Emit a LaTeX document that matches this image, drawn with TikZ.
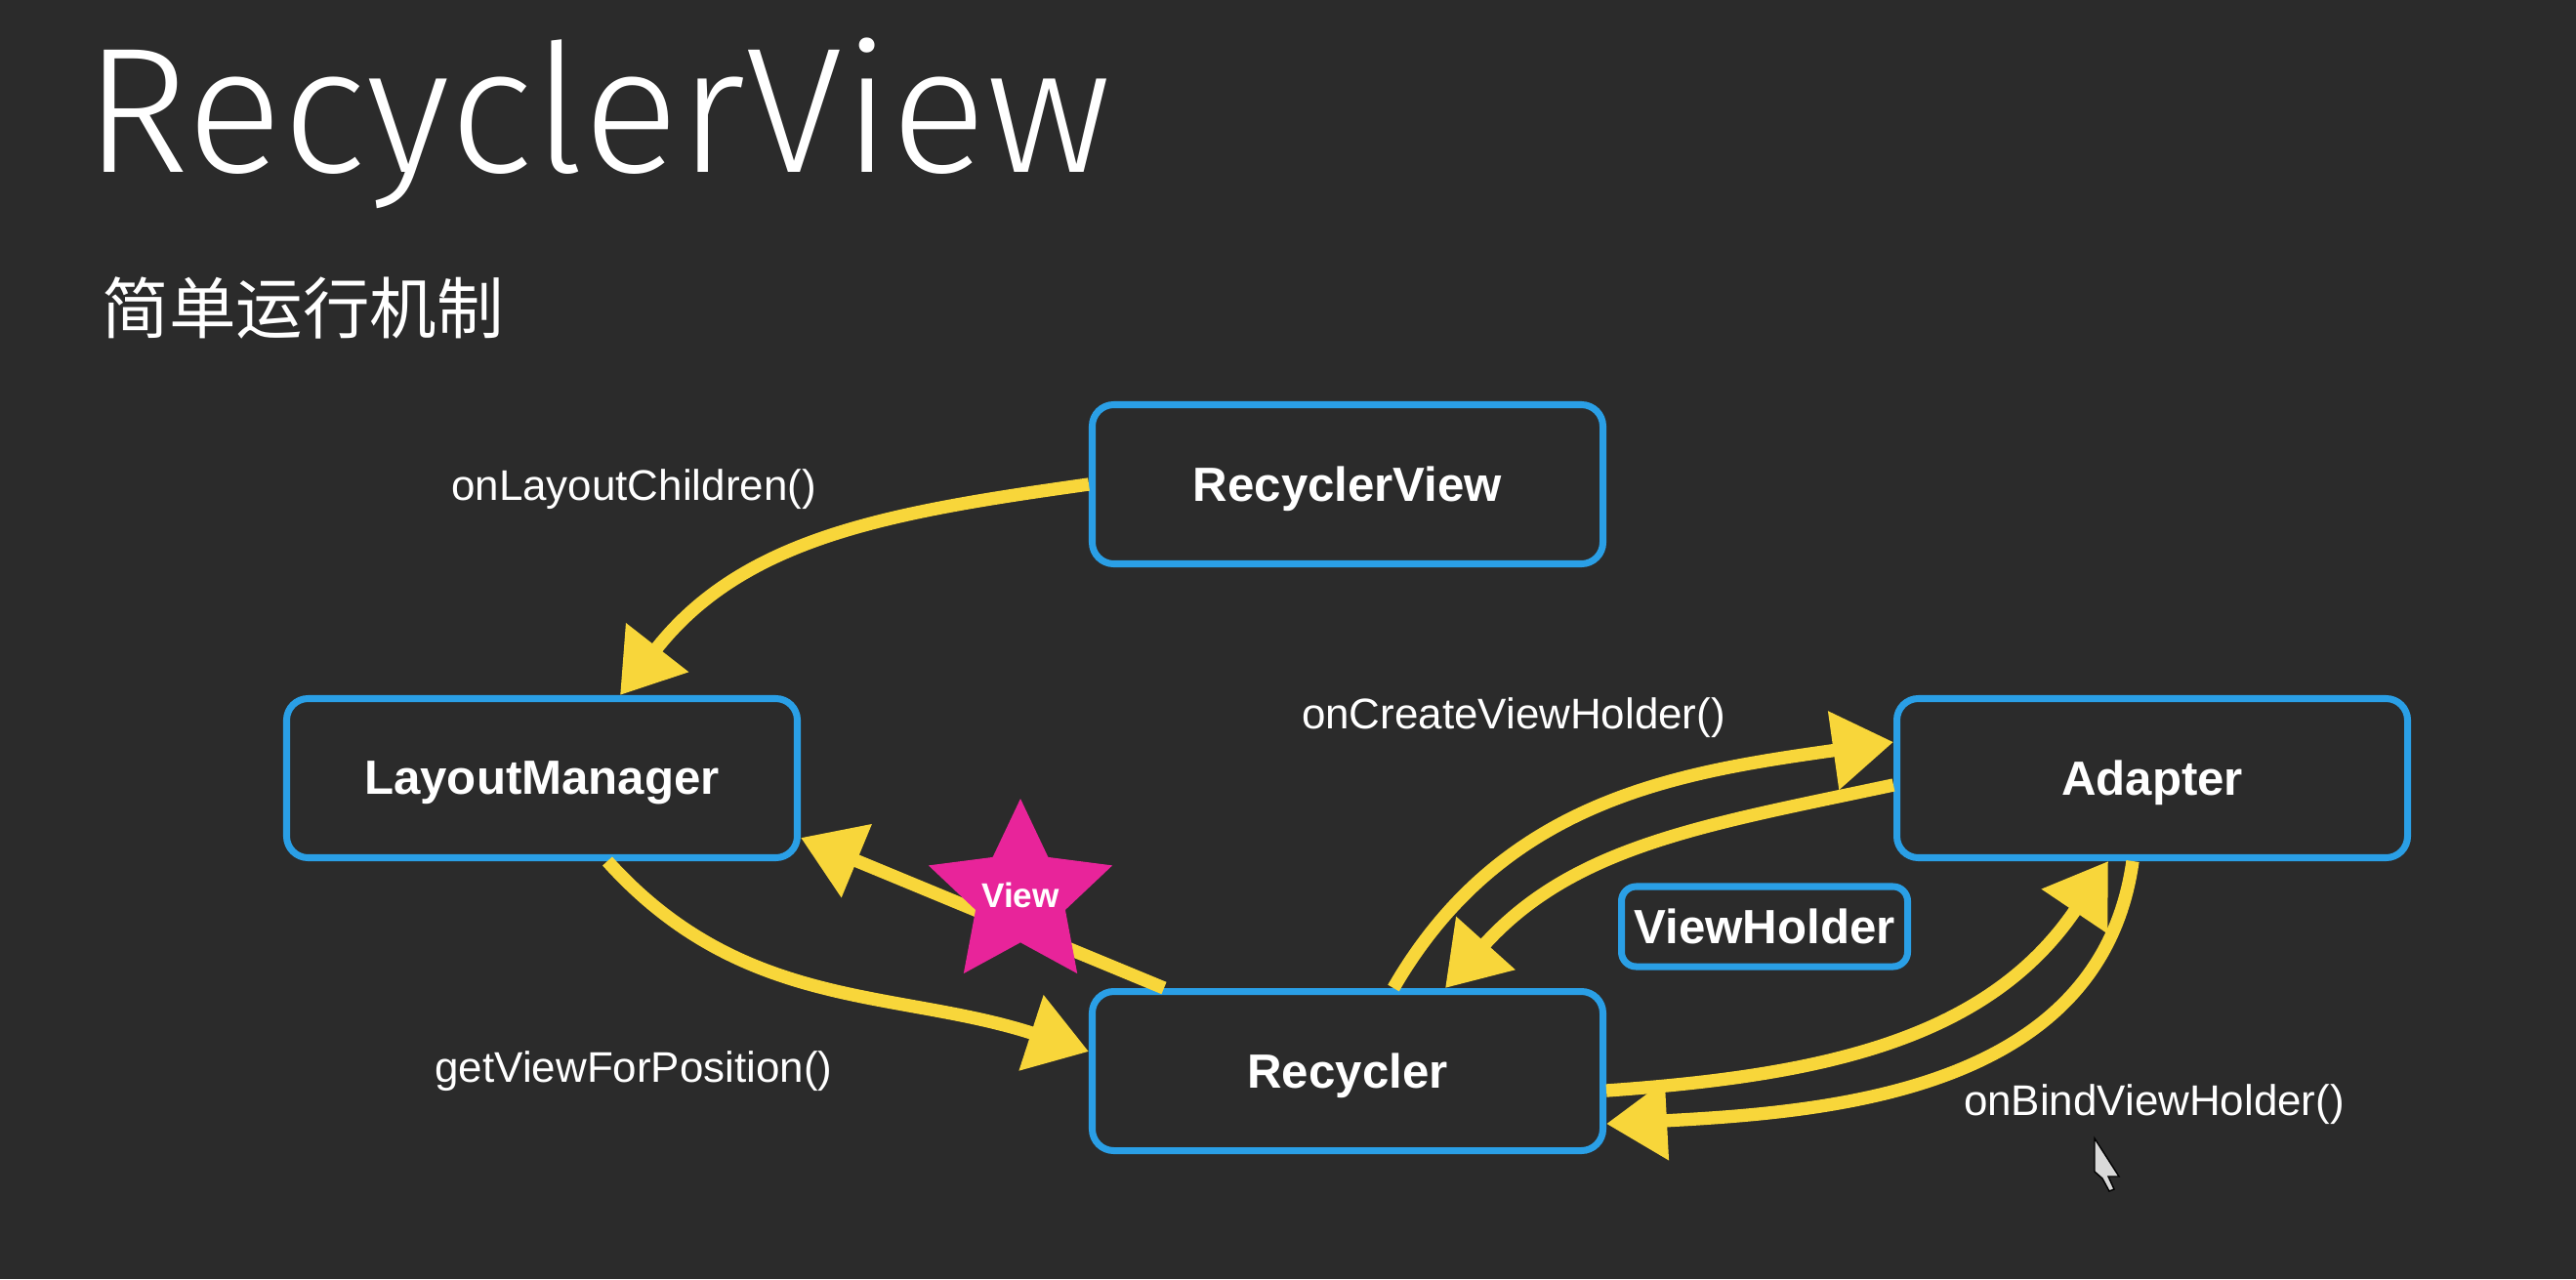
\documentclass[tikz,border=0pt]{standalone}
\usepackage{fontspec}
\setmainfont{Liberation Sans}
\newfontfamily\titlefont{Fira Sans Light}
\newfontfamily\cjkfont{Noto Sans CJK SC}
\usetikzlibrary{arrows.meta, positioning, shapes.geometric}
\definecolor{slidebg}{HTML}{2B2B2B}
\definecolor{boxblue}{HTML}{2A9FE6}
\definecolor{flowyellow}{HTML}{F8D63A}
\definecolor{starpink}{HTML}{E8249A}

\begin{document}
\begin{tikzpicture}[
    box/.style={draw=boxblue, line width=2pt, rounded corners=0.22cm, fill=slidebg,
                minimum width=5.23cm, minimum height=1.63cm, text=white, text depth=0pt,
                font=\fontsize{14}{16}\selectfont\bfseries},
    small box/.style={box, minimum width=2.93cm, minimum height=0.82cm,
                inner sep=1pt, rounded corners=0.15cm},
    call label/.style={text=white, font=\fontsize{12.5}{15}\selectfont},
    flow/.style={draw=flowyellow, line width=3.8pt,
                -{Triangle[length=0.62cm, width=0.78cm]}}]

    % Slide background
    \fill[slidebg] (0,0) rectangle (26.38,-13.10);
    \useasboundingbox (0,0) rectangle (26.38,-13.10);

    % Headings
    \node[anchor=base west, inner sep=0pt, text=white,
          font=\titlefont\fontsize{52}{60}\selectfont] (title) at (0.86,-1.76) {RecyclerView};
    \node[anchor=west, inner sep=0pt, text=white,
          font=\cjkfont\fontsize{19.5}{22}\selectfont] (subtitle) at (1.04,-3.15) {简单运行机制};

    % Components
    \node[box] (rv)  at (13.80,-4.96) {RecyclerView};
    \node[box] (lm)  at (5.55,-7.97)  {LayoutManager};
    \node[box] (ad)  at (22.04,-7.97) {Adapter};
    \node[box] (rec) at (13.80,-10.97) {Recycler};
    \node[small box] (vh) at (18.07,-9.49) {ViewHolder};

    % Method names
    \node[call label] (lblLayout) at (6.49,-5.01)  {onLayoutChildren()};
    \node[call label] (lblCreate) at (15.50,-7.35) {onCreateViewHolder()};
    \node[call label] (lblGet)    at (6.49,-10.97) {getViewForPosition()};
    \node[call label] (lblBind)   at (22.06,-11.31) {onBindViewHolder()};

    % Calls between the components
    \draw[flow] (rv.west) to[out=188, in=52] ([xshift=0.8cm]lm.north);
    \draw[flow] ([xshift=0.67cm]lm.south) to[out=-48, in=162] ([yshift=0.2cm]rec.west);
    \draw[flow] ([xshift=-1.88cm]rec.north) -- ([yshift=0.24cm]lm.south east);
    \draw[flow] ([xshift=0.47cm]rec.north) to[out=60, in=188] ([yshift=0.37cm]ad.west);
    \draw[flow] ([yshift=-0.07cm]ad.west) to[out=192, in=48] ([xshift=1.0cm]rec.north);
    \draw[flow] ([yshift=-0.2cm]rec.east) to[out=4, in=236] ([xshift=-0.45cm]ad.south);
    \draw[flow] ([xshift=-0.2cm]ad.south) to[out=-98, in=3] ([yshift=-0.54cm]rec.east);

    % The view handed back
    \node[star, star points=5, star point ratio=2.05, minimum size=1.98cm, inner sep=0pt,
          fill=starpink, label={[text=white, font=\fontsize{10}{12}\selectfont\bfseries]center:View}]
          (view) at (10.45,-9.17) {};

    % Mouse pointer
    \draw[black, line width=0.4pt, fill=white!85!black]
        (21.45,-11.66) -- ++(0,-0.34) -- ++(0.08,-0.07) -- ++(0.07,-0.13) -- ++(0.05,0.02)
        -- ++(-0.06,0.13) -- ++(0.11,0) -- cycle;
\end{tikzpicture}
\end{document}
